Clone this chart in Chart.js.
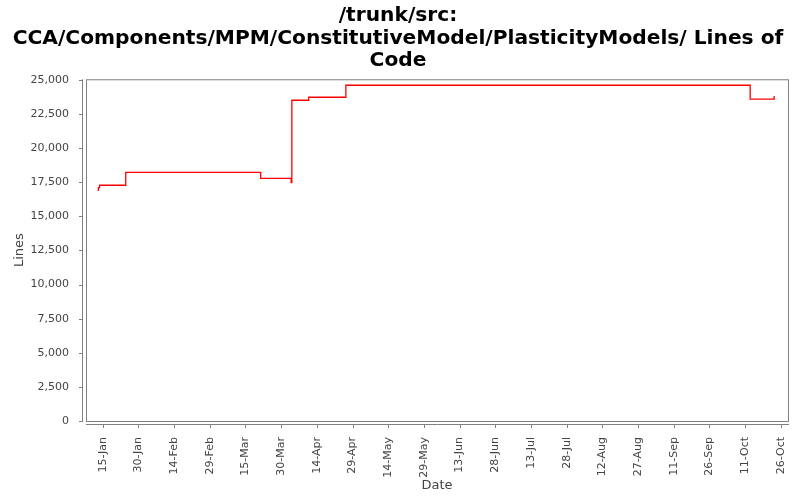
<!DOCTYPE html>
<html>
<head>
<meta charset="utf-8">
<script src="https://cdn.jsdelivr.net/npm/chart.js@4/dist/chart.umd.min.js"></script>
<style>
  body { margin: 0; background: #fff; }
  #box { width: 800px; height: 500px; }
</style>
</head>
<body>
<div id="box"><canvas id="loc"></canvas></div>
<script>
// day of year (leap year) and lines of code
var days  = [13.2, 13.2, 13.7, 24.7, 81.4, 94.2, 94.5, 101.6, 117.2, 287.1, 297.2];
var lines = [16860, 17100, 17280, 18230, 17790, 17470, 23510, 23730, 24610, 23590, 23830];

var tickDays = [15, 30, 45, 60, 75, 90, 105, 120, 135, 150, 165, 180, 195, 210, 225, 240, 255, 270, 285, 300];
var tickNames = ["15-Jan", "30-Jan", "14-Feb", "29-Feb", "15-Mar", "30-Mar", "14-Apr", "29-Apr", "14-May", "29-May",
                 "13-Jun", "28-Jun", "13-Jul", "28-Jul", "12-Aug", "27-Aug", "11-Sep", "26-Sep", "11-Oct", "26-Oct"];
var lineTicks = [0, 2500, 5000, 7500, 10000, 12500, 15000, 17500, 20000, 22500, 25000];

var points = [];
for (var i = 0; i < days.length; i++) {
  points.push({ x: days[i], y: lines[i] });
}

var fontName = "'DejaVu Sans', sans-serif";
var grey = "#808080";

// plot frame, offset axis lines and tick marks like the original
var framePlugin = {
  id: "frame",
  afterDraw: function (chart) {
    var ctx = chart.ctx;
    var a = chart.chartArea;
    var xs = chart.scales.x, ys = chart.scales.y;
    ctx.save();
    ctx.strokeStyle = grey;
    ctx.lineWidth = 1;
    ctx.strokeRect(a.left + 0.5, a.top + 0.5, a.right - a.left, a.bottom - a.top);
    ctx.beginPath();
    ctx.moveTo(a.left - 3.5, a.top);
    ctx.lineTo(a.left - 3.5, a.bottom + 1);
    ctx.moveTo(a.left, a.bottom + 3.5);
    ctx.lineTo(a.right + 1, a.bottom + 3.5);
    for (var i = 0; i < ys.ticks.length; i++) {
      var py = Math.round(ys.getPixelForValue(ys.ticks[i].value)) + 0.5;
      ctx.moveTo(a.left - 3.5, py);
      ctx.lineTo(a.left - 7, py);
    }
    for (var j = 0; j < xs.ticks.length; j++) {
      var px = Math.round(xs.getPixelForValue(xs.ticks[j].value)) + 0.5;
      ctx.moveTo(px, a.bottom + 3.5);
      ctx.lineTo(px, a.bottom + 7);
    }
    ctx.stroke();
    ctx.restore();
  }
};

new Chart(document.getElementById("loc"), {
  type: "line",
  data: {
    datasets: [{
      data: points,
      borderColor: "#ff0000",
      borderWidth: 1.3,
      pointRadius: 0,
      stepped: true,
      fill: false
    }]
  },
  options: {
    responsive: true,
    maintainAspectRatio: false,
    animation: false,
    layout: { padding: { left: 8, right: 12, top: 0, bottom: 0 } },
    plugins: {
      legend: { display: false },
      tooltip: { enabled: false },
      title: {
        display: true,
        text: ["/trunk/src:", "CCA/Components/MPM/ConstitutiveModel/PlasticityModels/ Lines of", "Code"],
        color: "#000",
        font: { family: fontName, size: 20.2, weight: "bold", lineHeight: 1.11 },
        padding: { top: 5, bottom: 7 }
      }
    },
    scales: {
      x: {
        type: "linear",
        min: 8,
        max: 303,
        grid: { display: false },
        border: { display: false },
        afterBuildTicks: function (scale) {
          scale.ticks = tickDays.map(function (d) { return { value: d }; });
        },
        afterFit: function (scale) {
          scale.height = 79;
          scale.paddingLeft = 0;
          scale.paddingRight = 0;
        },
        ticks: {
          autoSkip: false,
          minRotation: 90,
          maxRotation: 90,
          padding: 8,
          color: "#444",
          font: { family: fontName, size: 11 },
          callback: function (v) {
            var k = tickDays.indexOf(v);
            return k < 0 ? "" : tickNames[k];
          }
        },
        title: {
          display: true,
          text: "Date",
          color: "#444",
          font: { family: fontName, size: 13 },
          padding: { top: 0, bottom: 7 }
        }
      },
      y: {
        min: 0,
        max: 25050,
        grid: { display: false },
        border: { display: false },
        afterBuildTicks: function (scale) {
          scale.ticks = lineTicks.map(function (v) { return { value: v }; });
        },
        afterFit: function (scale) {
          scale.width = 78;
          scale.paddingTop = 0;
          scale.paddingBottom = 0;
        },
        ticks: {
          padding: 9,
          color: "#444",
          font: { family: fontName, size: 11 },
          callback: function (v) { return v.toLocaleString("en-US"); }
        },
        title: {
          display: true,
          text: "Lines",
          color: "#444",
          font: { family: fontName, size: 13 },
          padding: { top: 4, bottom: 2 }
        }
      }
    }
  },
  plugins: [framePlugin]
});
</script>
</body>
</html>
